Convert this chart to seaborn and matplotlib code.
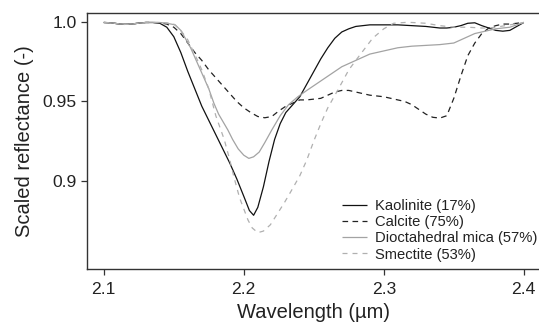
import matplotlib
matplotlib.use("Agg")
import matplotlib.pyplot as plt
import seaborn as sns
import pandas as pd

# ---------------- data ----------------
wl_kaolinite = [2.100, 2.105, 2.110, 2.115, 2.120, 2.125, 2.130, 2.135, 2.140, 2.145,
                2.150, 2.155, 2.160, 2.165, 2.170, 2.175, 2.180, 2.185, 2.190, 2.195,
                2.200, 2.204, 2.207, 2.210, 2.214, 2.218, 2.222, 2.226, 2.230, 2.235,
                2.240, 2.245, 2.250, 2.255, 2.260, 2.265, 2.270, 2.275, 2.280, 2.290,
                2.300, 2.310, 2.320, 2.330, 2.340, 2.345, 2.350, 2.355, 2.360, 2.365,
                2.370, 2.375, 2.380, 2.385, 2.390, 2.395, 2.400]
refl_kaolinite = [1.000, 0.9998, 0.9992, 0.9988, 0.9990, 0.9996, 1.000, 1.000, 0.9995, 0.997,
                  0.991, 0.981, 0.969, 0.958, 0.947, 0.938, 0.929, 0.920, 0.911, 0.901,
                  0.890, 0.881, 0.878, 0.883, 0.896, 0.912, 0.926, 0.936, 0.943, 0.948,
                  0.953, 0.961, 0.969, 0.977, 0.984, 0.990, 0.994, 0.996, 0.9975, 0.9985,
                  0.9985, 0.9985, 0.998, 0.9975, 0.9965, 0.9965, 0.997, 0.998, 0.9995, 0.9998,
                  0.998, 0.9965, 0.995, 0.9945, 0.995, 0.9975, 1.000]

wl_calcite = [2.100, 2.105, 2.110, 2.115, 2.120, 2.125, 2.130, 2.135, 2.140, 2.145,
              2.150, 2.155, 2.160, 2.165, 2.170, 2.175, 2.180, 2.185, 2.190, 2.195,
              2.200, 2.205, 2.210, 2.215, 2.220, 2.225, 2.230, 2.235, 2.240, 2.245,
              2.250, 2.255, 2.260, 2.265, 2.270, 2.275, 2.280, 2.285, 2.290, 2.300,
              2.310, 2.315, 2.320, 2.325, 2.330, 2.335, 2.340, 2.345, 2.350, 2.355,
              2.360, 2.365, 2.370, 2.375, 2.380, 2.385, 2.390, 2.395, 2.400]
refl_calcite = [1.000, 0.9998, 0.9992, 0.9988, 0.9990, 0.9996, 1.000, 1.000, 0.9998, 0.999,
                0.997, 0.993, 0.987, 0.981, 0.976, 0.970, 0.965, 0.960, 0.955, 0.950,
                0.946, 0.943, 0.9405, 0.9397, 0.9405, 0.944, 0.947, 0.949, 0.951, 0.951,
                0.9515, 0.952, 0.954, 0.956, 0.957, 0.957, 0.956, 0.955, 0.954, 0.953,
                0.951, 0.950, 0.948, 0.945, 0.942, 0.940, 0.9395, 0.941, 0.952, 0.966,
                0.979, 0.987, 0.993, 0.9965, 0.998, 0.999, 0.999, 0.9995, 1.000]

wl_mica = [2.100, 2.105, 2.110, 2.115, 2.120, 2.125, 2.130, 2.135, 2.140, 2.145,
           2.151, 2.155, 2.162, 2.165, 2.170, 2.175, 2.1786, 2.182, 2.1886, 2.192,
           2.196, 2.200, 2.2036, 2.207, 2.211, 2.215, 2.220, 2.226, 2.232, 2.2386,
           2.245, 2.250, 2.260, 2.270, 2.280, 2.290, 2.300, 2.310, 2.320, 2.330,
           2.340, 2.345, 2.350, 2.355, 2.360, 2.365, 2.370, 2.375, 2.380, 2.385,
           2.390, 2.395, 2.400]
refl_mica = [1.000, 0.9998, 0.9992, 0.9988, 0.9990, 0.9996, 1.000, 1.000, 1.000, 0.9995,
             0.9985, 0.995, 0.984, 0.978, 0.968, 0.958, 0.949, 0.942, 0.932, 0.926,
             0.920, 0.916, 0.914, 0.915, 0.918, 0.924, 0.932, 0.941, 0.948, 0.953,
             0.957, 0.960, 0.966, 0.972, 0.976, 0.980, 0.982, 0.984, 0.985, 0.9855,
             0.986, 0.9865, 0.987, 0.989, 0.991, 0.993, 0.994, 0.995, 0.996, 0.9965,
             0.997, 0.9985, 1.000]

wl_smectite = [2.100, 2.105, 2.110, 2.115, 2.120, 2.125, 2.130, 2.135, 2.140, 2.145,
               2.150, 2.155, 2.160, 2.167, 2.170, 2.175, 2.180, 2.186, 2.190, 2.193,
               2.197, 2.200, 2.203, 2.206, 2.210, 2.214, 2.219, 2.224, 2.229, 2.2336,
               2.240, 2.245, 2.250, 2.255, 2.260, 2.267, 2.275, 2.280, 2.286, 2.292,
               2.300, 2.307, 2.315, 2.320, 2.330, 2.340, 2.350, 2.360, 2.370, 2.375,
               2.380, 2.390, 2.400]
refl_smectite = [1.000, 0.9998, 0.9992, 0.9988, 0.9990, 0.9996, 1.000, 1.000, 1.000, 0.9998,
                 0.999, 0.995, 0.989, 0.976, 0.970, 0.958, 0.941, 0.926, 0.913, 0.902,
                 0.889, 0.882, 0.875, 0.870, 0.867, 0.868, 0.872, 0.879, 0.886, 0.893,
                 0.903, 0.913, 0.925, 0.936, 0.946, 0.957, 0.970, 0.976, 0.983, 0.990,
                 0.996, 0.9995, 1.000, 1.000, 0.9995, 0.998, 0.997, 0.997, 0.9965, 0.9965,
                 0.997, 0.9985, 1.000]

labels = ["Kaolinite (17%)", "Calcite (75%)", "Dioctahedral mica (57%)", "Smectite (53%)"]
x_ticks = [2.1, 2.2, 2.3, 2.4]
y_ticks = [0.9, 0.95, 1.0]
y_tick_labels = ["0.9", "0.95", "1.0"]

# ---------------- style ----------------
sns.set_style("ticks")
plt.rcParams["font.family"] = ["Liberation Sans", "DejaVu Sans"]

W, H = 539, 327
fig = plt.figure(figsize=(W / 100, H / 100), dpi=100)
ax = fig.add_axes([87 / W, 1 - 269 / H, (540.6 - 87) / W, (269 - 13) / H])

series = [
    (wl_kaolinite, refl_kaolinite, "#111111", (0, ())),
    (wl_calcite, refl_calcite, "#222222", (0, (4.5, 3.5))),
    (wl_mica, refl_mica, "#a3a3a3", (0, ())),
    (wl_smectite, refl_smectite, "#b0b0b0", (0, (4, 4))),
]
for (wl, rf, col, ls), lab in zip(series, labels):
    df = pd.DataFrame({"wl": wl, "refl": rf})
    sns.lineplot(data=df, x="wl", y="refl", ax=ax, color=col, linewidth=0.9,
                 linestyle=ls, label=lab, estimator=None, sort=False)

ax.set_xlim(2.088, 2.412)
ax.set_ylim(0.844, 1.006)
ax.set_xticks(x_ticks)
ax.set_xticklabels([str(t) for t in x_ticks])
ax.set_yticks(y_ticks)
ax.set_yticklabels(y_tick_labels)

for name, s in ax.spines.items():
    s.set_visible(name != "right")
    s.set_color("#333333")
    s.set_linewidth(1.0)

ax.tick_params(axis="both", direction="out", length=4.5, width=0.9,
               color="#333333", labelsize=12.6, labelcolor="#222222")
ax.tick_params(axis="x", pad=5)
ax.tick_params(axis="y", pad=3)

ax.set_xlabel("Wavelength (µm)", fontsize=14.5, color="#222222", labelpad=4)
ax.set_ylabel("Scaled reflectance (-)", fontsize=14.5, color="#222222", labelpad=6)

leg = ax.legend(loc="upper left", bbox_to_anchor=(342 / W, 1 - 199 / H),
                bbox_transform=fig.transFigure, frameon=False, fontsize=10.6,
                handlelength=1.7, handletextpad=0.55, labelspacing=0.15,
                borderpad=0, borderaxespad=0)
for t in leg.get_texts():
    t.set_color("#222222")

fig.savefig("out.png", dpi=100)
